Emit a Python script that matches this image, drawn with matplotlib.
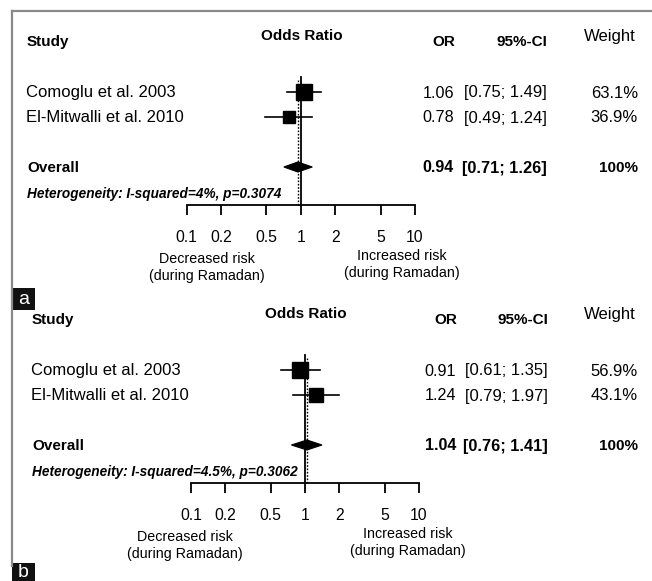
import matplotlib
matplotlib.use("Agg")
import matplotlib.pyplot as plt
from matplotlib.lines import Line2D
from matplotlib.patches import Rectangle, Polygon

plt.rcParams['font.family'] = ['Liberation Sans', 'DejaVu Sans']

# ---------------- data ----------------
studies = ["Comoglu et al. 2003", "El-Mitwalli et al. 2010"]

a_or = [1.06, 0.78]
a_lo = [0.75, 0.49]
a_hi = [1.49, 1.24]
a_weight = [63.1, 36.9]
a_overall = [0.94, 0.71, 1.26]
a_het = "Heterogeneity: I-squared=4%, p=0.3074"

b_or = [0.91, 1.24]
b_lo = [0.61, 0.79]
b_hi = [1.35, 1.97]
b_weight = [56.9, 43.1]
b_overall = [1.04, 0.76, 1.41]
b_het = "Heterogeneity: I-squared=4.5%, p=0.3062"

tick_values = [0.1, 0.2, 0.5, 1, 2, 5, 10]
tick_labels = ["0.1", "0.2", "0.5", "1", "2", "5", "10"]

# ---------------- layout ----------------
W, H = 652, 581
fig = plt.figure(figsize=(W / 100, H / 100), dpi=100)
fig.patch.set_facecolor("white")


def fx(x):
    return x / W


def fy(y):
    return 1 - y / H


def txt(x, y, s, **kw):
    fig.text(fx(x), fy(y), s, **kw)


def panel(dx, dy, ors, los, his, weights, overall, het, x01, x10,
          dec_x, inc_x):
    # header
    txt(27 + dx, 42 + dy, "Study", ha="left", va="center", fontsize=11, fontweight="bold")
    txt((x01 + x10) / 2 + 1, 36 + dy, "Odds Ratio", ha="center", va="center", fontsize=11, fontweight="bold")
    txt(455 + dx * 0.4, 42 + dy, "OR", ha="right", va="center", fontsize=11, fontweight="bold")
    txt(547 + dx * 0.2, 42 + dy, "95%-CI", ha="right", va="center", fontsize=11, fontweight="bold")
    txt(636, 37 + dy, "Weight", ha="right", va="center", fontsize=12)

    rows_y = [93 + dy, 118 + dy]
    over_y = 168 + dy
    for name, o, lo, hi, w, ry in zip(studies, ors, los, his, weights, rows_y):
        txt(26 + dx, ry, name, ha="left", va="center", fontsize=12)
        txt(454 + dx * 0.4, ry, f"{o:.2f}", ha="right", va="center", fontsize=11.6)
        txt(547 + dx * 0.2, ry, f"[{lo:.2f}; {hi:.2f}]", ha="right", va="center", fontsize=12)
        txt(638, ry, f"{w:.1f}%", ha="right", va="center", fontsize=12)
    txt(27 + dx, over_y, "Overall", ha="left", va="center", fontsize=11, fontweight="bold")
    txt(454 + dx * 0.4, over_y, f"{overall[0]:.2f}", ha="right", va="center", fontsize=11.6, fontweight="bold")
    txt(547 + dx * 0.2, over_y, f"[{overall[1]:.2f}; {overall[2]:.2f}]", ha="right", va="center",
        fontsize=11.8, fontweight="bold")
    txt(638, over_y, "100%", ha="right", va="center", fontsize=11, fontweight="bold")
    txt(27 + dx, 194 + dy, het, ha="left", va="center", fontsize=9.8, fontweight="bold", style="italic")

    # forest axes
    top, bot = 70 + dy, 205 + dy
    ax = fig.add_axes([fx(x01), fy(bot), fx(x10) - fx(x01), (bot - top) / H])
    ax.set_xscale("log")
    ax.set_xlim(0.1, 10)
    ax.set_ylim(bot, top)
    ax.patch.set_alpha(0)
    for s in ["top", "left", "right"]:
        ax.spines[s].set_visible(False)
    ax.spines["bottom"].set_linewidth(1.3)
    ax.set_yticks([])
    ax.set_xticks(tick_values)
    ax.set_xticklabels(tick_labels, fontsize=11.3)
    ax.minorticks_off()
    ax.tick_params(axis="x", direction="out", length=7, width=1.3, pad=11)

    # reference lines
    ax.plot([1, 1], [77 + dy, bot], color="black", lw=1.3, clip_on=False)
    ax.plot([overall[0], overall[0]], [80 + dy, bot], color="black", lw=1.0,
            linestyle=(0, (1.2, 1.2)), clip_on=False)

    for o, lo, hi, w, ry in zip(ors, los, his, weights, rows_y):
        ry2 = ry - 1
        ax.plot([lo, hi], [ry2, ry2], color="black", lw=1.2, clip_on=False)
        side_px = 2.1 * w ** 0.5
        ax.plot([o], [ry2], marker="s", color="black", markersize=side_px * 0.72,
                linestyle="none", clip_on=False)

    dyc = over_y - 1
    diamond = Polygon([[overall[1], dyc], [overall[0], dyc - 5],
                       [overall[2], dyc], [overall[0], dyc + 5]],
                      closed=True, facecolor="black", edgecolor="black", lw=0.8, clip_on=False)
    ax.add_patch(diamond)

    # risk labels
    txt(dec_x, 259 + dy, "Decreased risk", ha="center", va="center", fontsize=10.3)
    txt(dec_x, 276 + dy, "(during Ramadan)", ha="center", va="center", fontsize=10.3)
    txt(inc_x, 256 + dy, "Increased risk", ha="center", va="center", fontsize=10.3)
    txt(inc_x, 273 + dy, "(during Ramadan)", ha="center", va="center", fontsize=10.3)
    return ax


panel(0, 0, a_or, a_lo, a_hi, a_weight, a_overall, a_het, 186.7, 415.0, 207, 402)
panel(5, 278, b_or, b_lo, b_hi, b_weight, b_overall, b_het, 191.0, 419.0, 185, 408)

# outer frame (top and left)
frame_col = "#8a8a8a"
fig.add_artist(Line2D([fx(12), fx(12)], [fy(11), fy(566)], color=frame_col, lw=1.6))
fig.add_artist(Line2D([fx(12), 1.0], [fy(11), fy(11)], color=frame_col, lw=1.6))

# panel labels
for lab, y0, y1 in [("a", 288, 310), ("b", 563, 581)]:
    fig.add_artist(Rectangle((fx(12), fy(y1)), fx(35) - fx(12), (y1 - y0) / H,
                             transform=fig.transFigure, facecolor="#111111", edgecolor="none"))
    txt(23.5, (y0 + y1) / 2 + 0.5, lab, ha="center", va="center", fontsize=14, color="white")

fig.savefig("out.png", dpi=100)
